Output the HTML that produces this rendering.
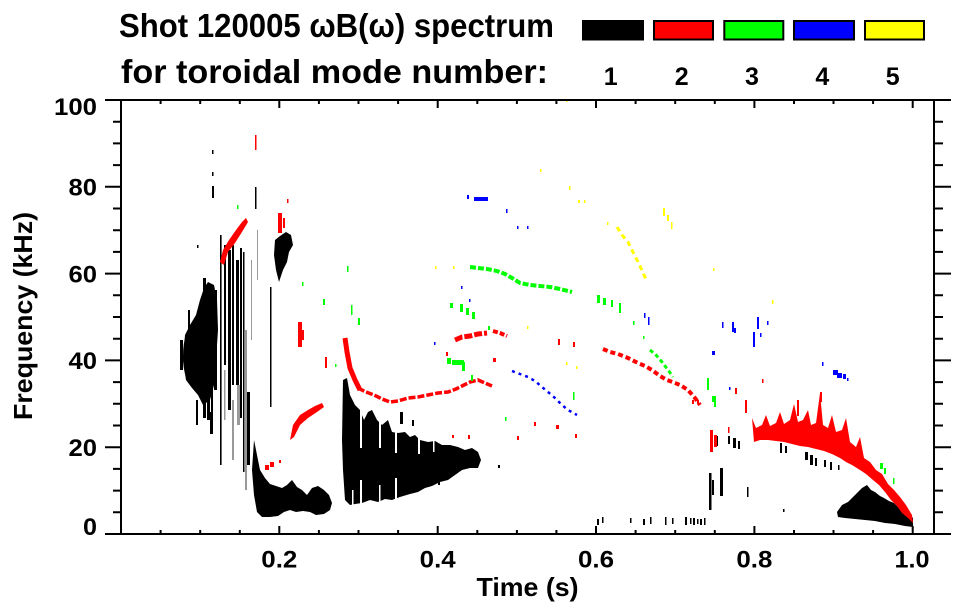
<!DOCTYPE html>
<html><head><meta charset="utf-8"><style>
html,body{margin:0;padding:0;background:#fff;}
svg{display:block;}
text{font-family:"Liberation Sans",Arial,sans-serif;font-weight:bold;fill:#000;}
</style></head><body>
<svg width="963" height="615" viewBox="0 0 963 615" xmlns="http://www.w3.org/2000/svg">
<rect width="963" height="615" fill="#fff"/>

<!-- Title -->
<text x="119" y="37" font-size="33" textLength="435" lengthAdjust="spacingAndGlyphs">Shot 120005 ωB(ω) spectrum</text>
<text x="121" y="83" font-size="33" textLength="427" lengthAdjust="spacingAndGlyphs">for toroidal mode number:</text>

<!-- Legend -->
<rect x="582" y="20" width="62" height="20.5" fill="#000"/>
<rect x="654" y="21" width="59" height="18.5" fill="#f00" stroke="#000" stroke-width="2"/>
<rect x="724.3" y="21" width="59" height="18.5" fill="#0f0" stroke="#000" stroke-width="2"/>
<rect x="794" y="21" width="60" height="18.5" fill="#00f" stroke="#000" stroke-width="2"/>
<rect x="865" y="21" width="59" height="18.5" fill="#ff0" stroke="#000" stroke-width="2"/>
<g font-size="25" text-anchor="middle">
<text x="610.7" y="85">1</text>
<text x="681.7" y="85">2</text>
<text x="752" y="85">3</text>
<text x="822.3" y="85">4</text>
<text x="892.7" y="85">5</text>
</g>

<!-- ===== DATA ===== -->
<g>
<!-- left black cluster -->
<polygon fill="#000" points="183,360 185,335 190,325 196,315 200,300 204,288 208,282 214,285 217,300 218,330 216,360 214,385 210,400 203,405 198,395 192,388 186,380"/>
<ellipse cx="193" cy="356" rx="10" ry="30" fill="#000"/>
<g fill="#000">
<rect x="203" y="278" width="3" height="140"/>
<rect x="207" y="285" width="3" height="135"/>
<rect x="211" y="300" width="2" height="130"/>
<rect x="214" y="290" width="3" height="100"/>
<rect x="220" y="235" width="1.6" height="230"/>
<rect x="224" y="245" width="2" height="120"/>
<rect x="228" y="250" width="3" height="160"/>
<rect x="232" y="245" width="2" height="140"/>
<rect x="236" y="260" width="3" height="125"/>
<rect x="240" y="248" width="2" height="170"/>
<rect x="243" y="252" width="1.5" height="220"/>
<rect x="247" y="392" width="3" height="73"/>
<rect x="210" y="412" width="3" height="22"/>
<rect x="200" y="300" width="3" height="50"/>
<rect x="196" y="400" width="2" height="25"/>
<rect x="188" y="310" width="2" height="20"/>
<rect x="180" y="340" width="3" height="30"/>
<rect x="212" y="150" width="1.5" height="4"/>
<rect x="212" y="172" width="1.5" height="4"/>
<rect x="212" y="186" width="2" height="12"/>
<rect x="255" y="187" width="1.5" height="22"/>
<rect x="197" y="245" width="1.5" height="3"/>
<rect x="270" y="287" width="1.5" height="120"/>
</g>
<g fill="#999">
<rect x="237" y="385" width="3" height="40"/>
<rect x="245" y="330" width="2" height="160"/>
<rect x="251" y="260" width="1" height="80"/>
<rect x="232" y="400" width="2" height="60"/>
<rect x="224" y="370" width="1.5" height="50"/>
<rect x="257" y="230" width="1" height="50"/>
</g>

<!-- black blob ~63 kHz -->
<polygon fill="#000" points="275,240 280,236 286,232 291,235 293,245 289,252 287,262 283,270 279,282 276,270 274,255"/>

<!-- low black 0.17-0.27 -->
<polygon fill="#000" points="254,440 257,455 260,470 265,478 270,484 276,486 282,488 287,485 292,480 297,487 302,490 307,495 312,488 318,486 324,490 329,495 332,503 330,510 324,514 316,515 310,512 303,511 296,512 290,510 284,512 278,516 270,517 262,517 257,512 254,495 252,470"/>

<!-- big black 0.28-0.45 -->
<polygon fill="#000" points="343,380 347,378 350,395 355,405 360,410 364,420 368,412 372,410 377,420 382,425 388,420 392,432 398,433 405,432 410,437 415,435 420,440 428,442 435,441 442,445 450,445 458,447 465,450 472,448 478,452 481,460 478,468 470,468 462,470 455,475 448,480 440,482 432,486 425,488 418,492 410,494 400,497 392,500 385,499 378,502 370,500 362,503 355,504 350,505 345,500 343,470 342,440"/>
<g fill="#fff">
<rect x="360" y="408" width="2" height="40"/>
<rect x="379" y="418" width="2" height="30"/>
<rect x="395" y="428" width="2" height="25"/>
<rect x="418" y="436" width="2" height="18"/>
<rect x="433" y="440" width="1.5" height="12"/>
<rect x="360" y="480" width="2" height="25"/>
<rect x="379" y="485" width="1.5" height="18"/>
<rect x="395" y="478" width="2" height="22"/>
<rect x="352" y="490" width="1.5" height="15"/>
</g>
<g fill="#000">
<rect x="400" y="412" width="3" height="12"/>
<rect x="412" y="420" width="2" height="6"/>
<rect x="498" y="465" width="2" height="3"/>
<rect x="438" y="482" width="2" height="3"/>
</g>

<!-- bottom black dashes 0.6-0.74 -->
<g fill="#000">
<rect x="597" y="519" width="2" height="6"/>
<rect x="602" y="517" width="1.5" height="6"/>
<rect x="630" y="518" width="1.5" height="5"/>
<rect x="643" y="519" width="2" height="6"/>
<rect x="650" y="517" width="1.5" height="7"/>
<rect x="665" y="517" width="1.5" height="8"/>
<rect x="672" y="518" width="1.5" height="6"/>
<rect x="685" y="517" width="2" height="8"/>
<rect x="690" y="518" width="1.5" height="6"/>
<rect x="697" y="519" width="1.5" height="5"/>
<rect x="704" y="518" width="1.5" height="7"/>
<rect x="709" y="473" width="2.5" height="37"/>
<rect x="712" y="480" width="2" height="15"/>
<rect x="693" y="518" width="2" height="7"/>
<rect x="700" y="519" width="2" height="6"/>
<rect x="710" y="433" width="2" height="12"/>
<rect x="716" y="436" width="2" height="10"/>
<rect x="720" y="468" width="3" height="28"/>
<rect x="728" y="436" width="2" height="8"/>
<rect x="733" y="438" width="3" height="10"/>
<rect x="738" y="441" width="2" height="8"/>
<rect x="747" y="487" width="1.5" height="10"/>
<rect x="780" y="443" width="2" height="10"/>
<rect x="785" y="446" width="2" height="7"/>
<rect x="783" y="509" width="1.5" height="3"/>
<rect x="805" y="452" width="3" height="8"/>
<rect x="810" y="455" width="3" height="10"/>
<rect x="815" y="458" width="2" height="8"/>
<rect x="824" y="460" width="2" height="7"/>
<rect x="830" y="462" width="2" height="8"/>
<rect x="838" y="465" width="1.5" height="5"/>
</g>

<!-- lower-right black -->
<polygon fill="#000" points="837,512 842,505 848,502 853,497 858,492 862,488 867,485 871,490 875,492 880,496 884,498 889,501 894,503 899,508 904,512 910,515 913,518 913,527 905,526 895,524 885,523 875,521 865,520 855,519 845,518 838,517"/>

<!-- RED -->
<g fill="#f00">
<polygon points="220,262 223,250 229,240 236,230 242,222 246,218 248,222 242,232 235,243 228,252 224,265"/>
<rect x="278" y="213" width="4" height="20"/>
<rect x="283" y="218" width="2" height="10"/>
<rect x="287" y="199" width="1.5" height="4"/>
<rect x="255" y="135" width="1.5" height="15"/>
<rect x="298" y="322" width="4" height="25"/>
<rect x="302" y="330" width="2" height="10"/>
<rect x="325" y="357" width="2" height="11"/>
<polygon points="290,440 293,425 300,415 308,410 315,406 322,403 324,407 317,412 308,418 300,425 294,437"/>
<rect x="265" y="465" width="4" height="5"/>
<rect x="270" y="462" width="4" height="5"/>
<rect x="279" y="460" width="2" height="3"/>
<rect x="468" y="435" width="2" height="4"/>
<rect x="452" y="435" width="2" height="3"/>
<rect x="493" y="358" width="3" height="4"/>
<rect x="517" y="436" width="2" height="4"/>
<rect x="446" y="352" width="2" height="4"/>
<rect x="534" y="422" width="2" height="4"/>
<rect x="556" y="425" width="3" height="4"/>
<rect x="575" y="434" width="2" height="4"/>
<rect x="558" y="339" width="2" height="6"/>
<rect x="573" y="342" width="2" height="5"/>
<rect x="710" y="430" width="3" height="22"/>
<rect x="714" y="435" width="3" height="12"/>
<rect x="692" y="400" width="2" height="4"/>
<rect x="697" y="400" width="2" height="4"/>
<rect x="735" y="388" width="2" height="6"/>
<rect x="745" y="400" width="2" height="13"/>
<rect x="762" y="379" width="1.5" height="4"/>
<rect x="820" y="392" width="2" height="10"/>
<rect x="797" y="400" width="2" height="16"/>
<rect x="728" y="427" width="1.5" height="6"/>
</g>
<polyline fill="none" stroke="#f00" stroke-width="5" points="345,338 347,352 350,368 355,380 360,390"/>
<polyline fill="none" stroke="#f00" stroke-width="3.5" stroke-dasharray="7 2" points="358,388 366,392 374,395 382,399 390,402 398,401 408,398 418,397 428,395 438,393 448,392 456,389 464,385 470,382 478,380 485,383 492,386"/>
<polyline fill="none" stroke="#f00" stroke-width="5" stroke-dasharray="8 2" points="455,340 462,337 470,336 478,334 487,333"/>
<polyline fill="none" stroke="#f00" stroke-width="4" stroke-dasharray="5 2" points="493,331 500,333 507,336"/>
<polyline fill="none" stroke="#f00" stroke-width="4" stroke-dasharray="5 3" points="603,349 610,352 618,354 628,358 638,363 645,366 652,370 660,376 667,380 675,383 680,385 688,390 695,398 700,405"/>
<polygon fill="#f00" points="752,418 756,428 762,425 766,415 770,426 776,423 780,412 784,424 790,420 794,404 798,422 803,420 808,410 811,425 816,423 820,393 823,425 828,428 832,415 836,432 842,430 846,418 850,442 856,447 860,437 864,458 870,462 876,470 882,474 888,484 894,490 900,497 906,505 912,515 913,523 908,518 902,513 897,506 891,500 885,492 879,485 873,480 866,474 860,470 852,465 846,462 840,458 832,454 824,451 816,449 808,447 800,446 792,444 784,442 776,441 768,440 760,440 754,442"/>

<!-- GREEN -->
<g fill="#0f0">
<rect x="237" y="205" width="1.5" height="4"/>
<rect x="302" y="282" width="1.5" height="4"/>
<rect x="323" y="299" width="2" height="6"/>
<rect x="347" y="266" width="1.5" height="6"/>
<rect x="351" y="305" width="1.5" height="10"/>
<rect x="358" y="318" width="2" height="7"/>
<rect x="335" y="364" width="1.5" height="3"/>
<rect x="450" y="303" width="3" height="5"/>
<rect x="460" y="304" width="3" height="8"/>
<rect x="466" y="308" width="3" height="7"/>
<rect x="472" y="312" width="3" height="7"/>
<rect x="488" y="326" width="2" height="4"/>
<rect x="447" y="358" width="4" height="6"/>
<rect x="452" y="360" width="12" height="5"/>
<rect x="462" y="362" width="3" height="9"/>
<rect x="471" y="375" width="2" height="6"/>
<rect x="505" y="417" width="1.5" height="4"/>
<rect x="573" y="392" width="1.5" height="8"/>
<rect x="597" y="295" width="3" height="8"/>
<rect x="603" y="298" width="3" height="7"/>
<rect x="611" y="300" width="2" height="7"/>
<rect x="619" y="303" width="2" height="10"/>
<rect x="633" y="321" width="1.5" height="4"/>
<rect x="643" y="336" width="1.5" height="3"/>
<rect x="707" y="378" width="2" height="12"/>
<rect x="712" y="396" width="4" height="6"/>
<rect x="714" y="402" width="2" height="5"/>
<rect x="880" y="463" width="3" height="6"/>
<rect x="884" y="468" width="2" height="6"/>
<rect x="893" y="478" width="1.5" height="6"/>
</g>
<polyline fill="none" stroke="#0f0" stroke-width="4" stroke-dasharray="6 2" points="470,267 478,268 487,269 497,271 505,274 512,278 520,283 530,285 540,286 550,287 560,289 572,292"/>
<polyline fill="none" stroke="#0f0" stroke-width="3" stroke-dasharray="4 3" points="650,350 656,355 662,362 668,370 673,377"/>

<!-- BLUE -->
<g fill="#00f">
<rect x="467" y="195" width="2" height="4"/>
<rect x="474" y="197" width="14" height="4"/>
<rect x="506" y="209" width="1.5" height="4"/>
<rect x="517" y="226" width="1.5" height="3"/>
<rect x="527" y="226" width="1.5" height="3"/>
<rect x="461" y="286" width="1.5" height="3"/>
<rect x="469" y="299" width="1.5" height="3"/>
<rect x="434" y="342" width="1.5" height="3"/>
<rect x="644" y="313" width="1.5" height="5"/>
<rect x="648" y="317" width="1.5" height="8"/>
<rect x="712" y="351" width="3" height="4"/>
<rect x="722" y="322" width="1.5" height="6"/>
<rect x="732" y="322" width="2" height="10"/>
<rect x="734" y="328" width="2" height="5"/>
<rect x="753" y="332" width="2" height="15"/>
<rect x="757" y="317" width="2" height="12"/>
<rect x="760" y="333" width="1.5" height="4"/>
<rect x="767" y="321" width="1.5" height="4"/>
<rect x="729" y="387" width="1.5" height="3"/>
<rect x="822" y="362" width="1.5" height="4"/>
<rect x="833" y="370" width="5" height="5"/>
<rect x="837" y="373" width="5" height="5"/>
<rect x="843" y="374" width="3" height="5"/>
<rect x="847" y="378" width="1.5" height="3"/>
</g>
<polyline fill="none" stroke="#00f" stroke-width="2.5" stroke-dasharray="3 4" points="512,371 520,374 528,377 535,381 542,387 548,392 555,398 562,405 568,410 577,415"/>

<!-- YELLOW -->
<g fill="#ff0">
<rect x="566" y="99" width="1.5" height="3"/>
<rect x="540" y="169" width="1.5" height="3"/>
<rect x="569" y="186" width="1.5" height="4"/>
<rect x="578" y="200" width="2" height="3"/>
<rect x="584" y="200" width="1.5" height="3"/>
<rect x="607" y="222" width="1.5" height="3"/>
<rect x="663" y="208" width="2" height="8"/>
<rect x="667" y="215" width="2" height="6"/>
<rect x="671" y="222" width="1.5" height="7"/>
<rect x="713" y="268" width="1.5" height="3"/>
<rect x="772" y="300" width="1.5" height="4"/>
<rect x="435" y="266" width="1.5" height="3"/>
<rect x="453" y="266" width="1.5" height="3"/>
<rect x="527" y="326" width="1.5" height="3"/>
<rect x="566" y="362" width="1.5" height="3"/>
<rect x="576" y="366" width="1.5" height="3"/>
</g>
<polyline fill="none" stroke="#ff0" stroke-width="3" stroke-dasharray="5 4" points="617,227 622,235 628,242 632,250 636,258 640,266 644,275 647,282"/>
</g>

<!-- ===== AXES ===== -->
<g stroke="#000" stroke-width="2" fill="none">
<rect x="121" y="100" width="813" height="434"/>
<path d="M105,534H121M105,447.2H121M105,360.4H121M105,273.6H121M105,186.8H121M105,100H121"/>
<path d="M934,534H951M934,447.2H951M934,360.4H951M934,273.6H951M934,186.8H951M934,100H951"/>
<path d="M113,512.3H121M113,490.6H121M113,468.9H121M113,425.5H121M113,403.8H121M113,382.1H121M113,338.7H121M113,317H121M113,295.3H121M113,251.9H121M113,230.2H121M113,208.5H121M113,165.1H121M113,143.4H121M113,121.7H121"/>
<path d="M934,512.3H943M934,490.6H943M934,468.9H943M934,425.5H943M934,403.8H943M934,382.1H943M934,338.7H943M934,317H943M934,295.3H943M934,251.9H943M934,230.2H943M934,208.5H943M934,165.1H943M934,143.4H943M934,121.7H943"/>
<path d="M279.3,534V526M437.7,534V526M596,534V526M754.4,534V526M912.7,534V526"/>
<path d="M279.3,100V108M437.7,100V108M596,100V108M754.4,100V108M912.7,100V108"/>
<path d="M160.6,534V530M200.2,534V530M239.8,534V530M318.9,534V530M358.5,534V530M398.1,534V530M477.3,534V530M516.9,534V530M556.4,534V530M635.6,534V530M675.2,534V530M714.8,534V530M794,534V530M833.5,534V530M873.1,534V530"/>
<path d="M160.6,100V104M200.2,100V104M239.8,100V104M318.9,100V104M358.5,100V104M398.1,100V104M477.3,100V104M516.9,100V104M556.4,100V104M635.6,100V104M675.2,100V104M714.8,100V104M794,100V104M833.5,100V104M873.1,100V104"/>
</g>

<!-- y tick labels -->
<g font-size="24" text-anchor="end">
<text x="97" y="115" textLength="43" lengthAdjust="spacingAndGlyphs">100</text>
<text x="97" y="195.5" textLength="28.5" lengthAdjust="spacingAndGlyphs">80</text>
<text x="97" y="282.3" textLength="28.5" lengthAdjust="spacingAndGlyphs">60</text>
<text x="97" y="369" textLength="28.5" lengthAdjust="spacingAndGlyphs">40</text>
<text x="97" y="456" textLength="28.5" lengthAdjust="spacingAndGlyphs">20</text>
<text x="97" y="535" textLength="14" lengthAdjust="spacingAndGlyphs">0</text>
</g>
<!-- x tick labels -->
<g font-size="24" text-anchor="middle">
<text x="279.3" y="567.5" textLength="36" lengthAdjust="spacingAndGlyphs">0.2</text>
<text x="437.7" y="567.5" textLength="36" lengthAdjust="spacingAndGlyphs">0.4</text>
<text x="596" y="567.5" textLength="36" lengthAdjust="spacingAndGlyphs">0.6</text>
<text x="754.4" y="567.5" textLength="36" lengthAdjust="spacingAndGlyphs">0.8</text>
<text x="912" y="567.5" textLength="35" lengthAdjust="spacingAndGlyphs">1.0</text>
</g>

<!-- axis titles -->
<text x="527.5" y="596" font-size="26" text-anchor="middle" textLength="102" lengthAdjust="spacingAndGlyphs">Time (s)</text>
<text transform="translate(32,316) rotate(-90)" x="0" y="0" font-size="26" text-anchor="middle" textLength="208" lengthAdjust="spacingAndGlyphs">Frequency (kHz)</text>
</svg>
</body></html>
